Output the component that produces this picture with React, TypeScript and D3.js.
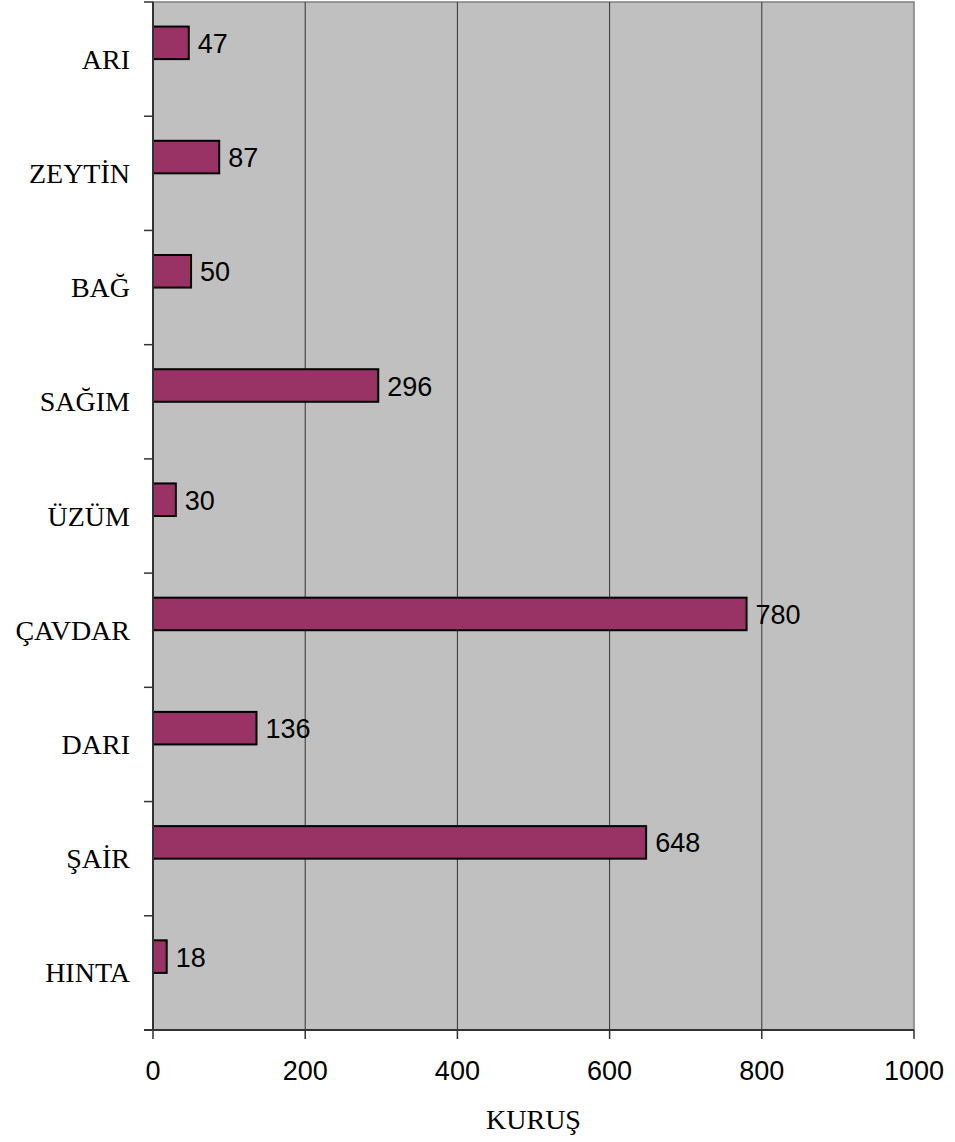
import React, { useRef, useEffect } from 'react';
import * as d3 from 'd3';

const categories = ['ARI', 'ZEYTİN', 'BAĞ', 'SAĞIM', 'ÜZÜM', 'ÇAVDAR', 'DARI', 'ŞAİR', 'HINTA'];
const values = [47, 87, 50, 296, 30, 780, 136, 648, 18];
const xTicks = [0, 200, 400, 600, 800, 1000];
const xTitle = 'KURUŞ';

const App: React.FC = () => {
  const ref = useRef<SVGSVGElement>(null);

  useEffect(() => {
    const svg = d3.select(ref.current);
    svg.selectAll('*').remove();
    const width = 955;
    const height = 1142;
    const margin = { top: 2, right: 41, bottom: 112, left: 153 };

    svg.attr('width', width).attr('height', height);

    const x = d3.scaleLinear()
      .domain([0, 1000])
      .range([margin.left, width - margin.right]);

    const y = d3.scaleBand()
      .domain(categories)
      .range([margin.top, height - margin.bottom])
      .padding(0);

    const bw = y.bandwidth();

    // plot background
    svg.append('rect')
      .attr('x', x(0))
      .attr('y', margin.top)
      .attr('width', x(1000) - x(0))
      .attr('height', height - margin.bottom - margin.top)
      .attr('fill', '#c0c0c0')
      .attr('stroke', '#808080')
      .attr('stroke-width', 1.5);

    // vertical gridlines
    svg.append('g')
      .selectAll('line')
      .data(xTicks.slice(1, -1))
      .join('line')
      .attr('x1', d => x(d))
      .attr('x2', d => x(d))
      .attr('y1', margin.top)
      .attr('y2', height - margin.bottom)
      .attr('stroke', '#333')
      .attr('stroke-width', 1);

    // bars
    svg.append('g')
      .selectAll('rect')
      .data(values)
      .join('rect')
      .attr('x', x(0))
      .attr('y', (d, i) => y(categories[i])! + bw * 0.215)
      .attr('width', d => x(d) - x(0))
      .attr('height', bw * 0.285)
      .attr('fill', '#993366')
      .attr('stroke', '#000')
      .attr('stroke-width', 2);

    // value labels
    svg.append('g')
      .selectAll('text')
      .data(values)
      .join('text')
      .attr('x', d => x(d) + 9)
      .attr('y', (d, i) => y(categories[i])! + bw * 0.215 + bw * 0.1425 + 10)
      .attr('font-family', 'Liberation Sans, Arial, sans-serif')
      .attr('font-size', 27)
      .attr('fill', '#000')
      .text(d => d);

    // y axis
    const yAxis = svg.append('g');
    yAxis.append('line')
      .attr('x1', x(0)).attr('x2', x(0))
      .attr('y1', margin.top).attr('y2', height - margin.bottom)
      .attr('stroke', '#333').attr('stroke-width', 2);
    const yTickPos = categories.map(c => y(c)!).concat([height - margin.bottom]);
    yAxis.selectAll('line.tick')
      .data(yTickPos)
      .join('line')
      .attr('class', 'tick')
      .attr('x1', x(0) - 9).attr('x2', x(0))
      .attr('y1', d => d).attr('y2', d => d)
      .attr('stroke', '#333').attr('stroke-width', 1.5);
    yAxis.selectAll('text')
      .data(categories)
      .join('text')
      .attr('x', 130)
      .attr('y', d => y(d)! + bw / 2 + 9.5)
      .attr('text-anchor', 'end')
      .attr('font-family', 'Liberation Serif, Times New Roman, serif')
      .attr('font-size', 28)
      .attr('fill', '#000')
      .text(d => d);

    // x axis
    const xAxis = svg.append('g');
    const axisY = height - margin.bottom;
    xAxis.append('line')
      .attr('x1', x(0) - 9).attr('x2', x(1000))
      .attr('y1', axisY).attr('y2', axisY)
      .attr('stroke', '#333').attr('stroke-width', 2);
    xAxis.selectAll('line.tick')
      .data(xTicks)
      .join('line')
      .attr('class', 'tick')
      .attr('x1', d => x(d)).attr('x2', d => x(d))
      .attr('y1', axisY).attr('y2', axisY + 9)
      .attr('stroke', '#333').attr('stroke-width', 1.5);
    xAxis.selectAll('text')
      .data(xTicks)
      .join('text')
      .attr('x', d => x(d))
      .attr('y', axisY + 50)
      .attr('text-anchor', 'middle')
      .attr('font-family', 'Liberation Sans, Arial, sans-serif')
      .attr('font-size', 27)
      .attr('fill', '#000')
      .text(d => d);

    svg.append('text')
      .attr('x', (x(0) + x(1000)) / 2)
      .attr('y', axisY + 99)
      .attr('text-anchor', 'middle')
      .attr('font-family', 'Liberation Serif, Times New Roman, serif')
      .attr('font-size', 28)
      .attr('fill', '#000')
      .text(xTitle);
  }, []);

  return <svg ref={ref} style={{ position: 'absolute', left: 0, top: 0 }}></svg>;
};

export default App;
